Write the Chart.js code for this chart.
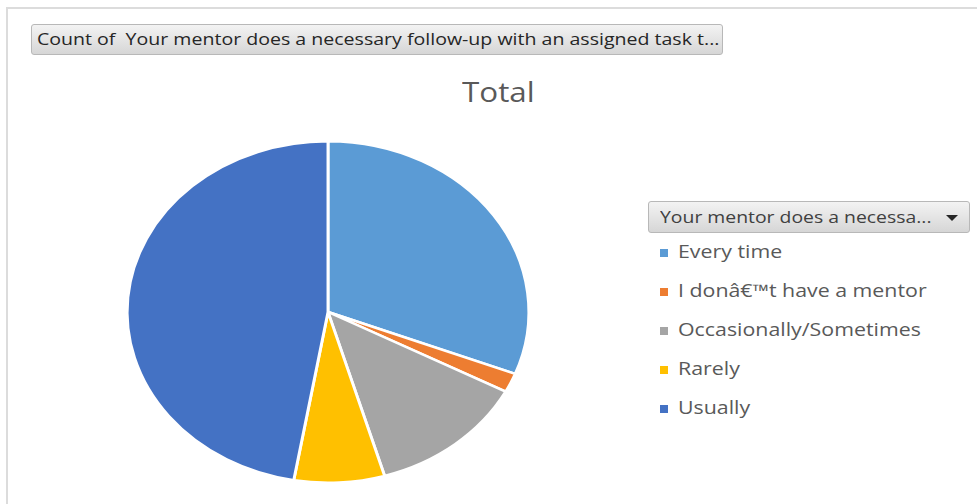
<!DOCTYPE html>
<html>
<head>
<meta charset="utf-8">
<script src="https://cdn.jsdelivr.net/npm/chart.js@4/dist/chart.umd.min.js"></script>
<style>
  html, body { margin:0; padding:0; background:#fff; width:977px; height:504px; overflow:hidden; }
  body { position:relative; font-family:"Open Sans", "Noto Sans", sans-serif; }
  #frame { position:absolute; left:6px; top:7px; width:1100px; height:600px; border:2px solid #dcdcdc; box-sizing:border-box; }
  .btn { position:absolute; box-sizing:border-box; border:1px solid #b8b8b8; border-radius:3px;
         background:linear-gradient(#f3f3f3,#d6d6d6); color:#262626; white-space:nowrap; overflow:hidden; }
  .sx { display:inline-block; transform-origin:0 50%; white-space:nowrap; }
  #fieldBtn { left:31px; top:24px; width:692px; height:31px; font-size:16px; line-height:29px; padding-left:5px; }
  #fieldBtn .sx { transform:scaleX(1.222); }
  #legendBtn { left:648px; top:201px; width:322px; height:32px; font-size:17px; line-height:30px; padding-left:11px; color:#404040; }
  #legendBtn .sx { transform:scaleX(1.14); }
  #legendBtn .tri { position:absolute; right:11px; top:13px; width:0; height:0; border-left:6px solid transparent; border-right:6px solid transparent; border-top:6px solid #262626; }
  #title { position:absolute; left:462px; top:72px; font-size:28px; color:#595959; }
  #title .sx { transform:scaleX(1.12); }
  #legend { position:absolute; left:660px; top:238px; }
  .item { height:39px; font-size:17.5px; color:#595959; position:relative; line-height:27px; white-space:nowrap; }
  .item .sw { display:inline-block; width:8px; height:8px; margin-right:10px; vertical-align:1px; }
  .item .sx { transform:scaleX(1.22); }
  #pieWrap { position:absolute; left:100px; top:140px; width:456px; height:344px; }
</style>
</head>
<body>
<div id="frame"></div>
<div id="fieldBtn" class="btn"><span class="sx">Count of&nbsp; Your mentor does a necessary follow-up with an assigned task t...</span></div>
<div id="title"><span class="sx">Total</span></div>
<div id="legendBtn" class="btn"><span class="sx">Your mentor does a necessa...</span><span class="tri"></span></div>
<div id="legend"></div>
<div id="pieWrap"><canvas id="c"></canvas></div>
<script>
const categories = ["Every time", "I donâ€™t have a mentor", "Occasionally/Sometimes", "Rarely", "Usually"];
const counts = [17, 1, 7, 4, 26];
const colors = ["#5B9BD5", "#ED7D31", "#A5A5A5", "#FFC000", "#4472C4"];

// HTML legend built from the arrays
const lg = document.getElementById('legend');
categories.forEach((name, i) => {
  const d = document.createElement('div');
  d.className = 'item';
  const sw = document.createElement('span');
  sw.className = 'sw';
  sw.style.background = colors[i];
  d.appendChild(sw);
  const t = document.createElement('span');
  t.className = 'sx';
  t.textContent = name;
  d.appendChild(t);
  lg.appendChild(d);
});

// The reference pie is drawn stretched horizontally (ellipse)
const stretchX = 200 / 170;
const stretchPlugin = {
  id: 'stretch',
  beforeDatasetsDraw(chart) {
    const ctx = chart.ctx;
    const a = chart.chartArea;
    const cx = (a.left + a.right) / 2;
    ctx.save();
    ctx.translate(cx, 0);
    ctx.scale(stretchX, 1);
    ctx.translate(-cx, 0);
  },
  afterDatasetsDraw(chart) {
    chart.ctx.restore();
  }
};

new Chart(document.getElementById('c'), {
  type: 'pie',
  data: {
    labels: categories,
    datasets: [{
      data: counts,
      backgroundColor: colors,
      borderColor: '#ffffff',
      borderWidth: 2.5
    }]
  },
  options: {
    responsive: true,
    maintainAspectRatio: false,
    animation: false,
    layout: { padding: 0 },
    plugins: {
      legend: { display: false },
      title: { display: false },
      tooltip: { enabled: false }
    }
  },
  plugins: [stretchPlugin]
});
</script>
</body>
</html>
